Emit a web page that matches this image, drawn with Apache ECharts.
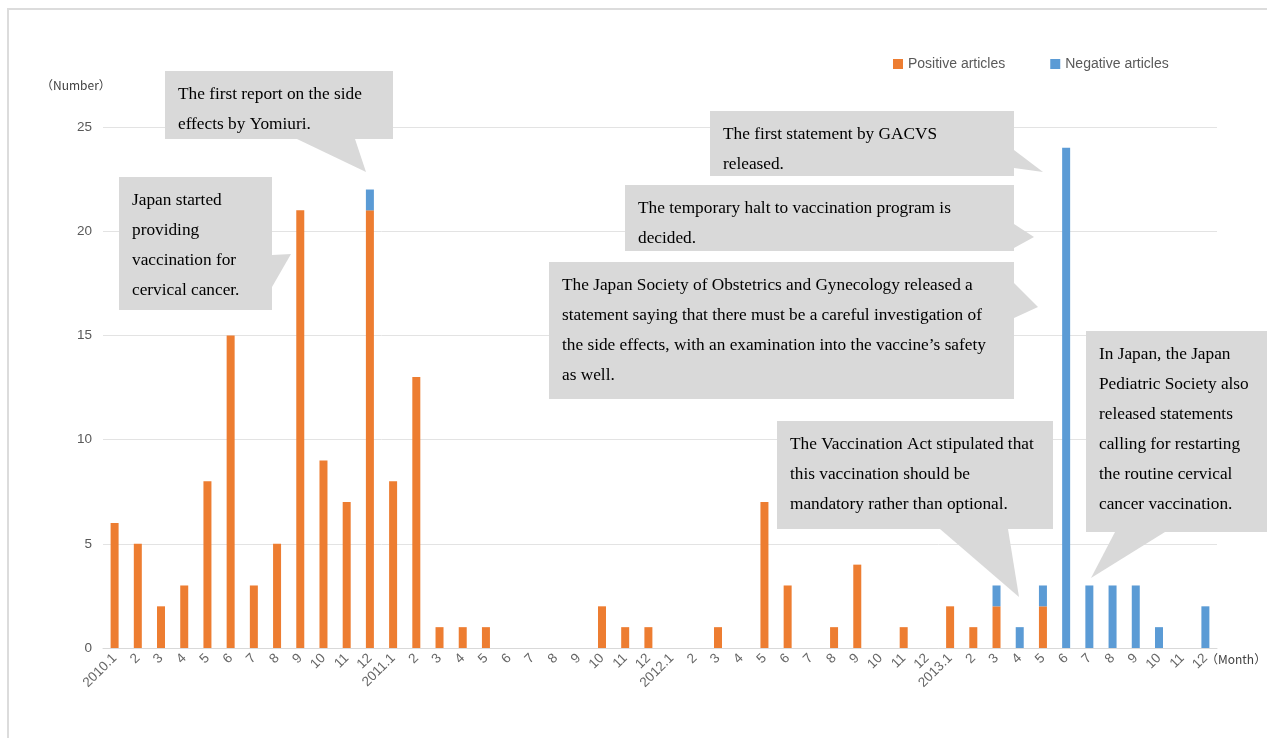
<!DOCTYPE html>
<html>
<head>
<meta charset="utf-8">
<script src="https://cdn.jsdelivr.net/npm/echarts@6/dist/echarts.min.js"></script>
<style>html,body{margin:0;padding:0;background:#fff}#c{width:1267px;height:738px}</style>
</head>
<body>
<div id="c"></div>
<script>
const categories = [
  '2010.1','2','3','4','5','6','7','8','9','10','11','12',
  '2011.1','2','3','4','5','6','7','8','9','10','11','12',
  '2012.1','2','3','4','5','6','7','8','9','10','11','12',
  '2013.1','2','3','4','5','6','7','8','9','10','11','12'
];
const positiveArticles = [
  6,5,2,3,8,15,3,5,21,9,7,21,
  8,13,1,1,1,0,0,0,0,2,1,1,
  0,0,1,0,7,3,0,1,4,0,1,0,
  2,1,2,0,2,0,0,0,0,0,0,0
];
const negativeArticles = [
  0,0,0,0,0,0,0,0,0,0,0,1,
  0,0,0,0,0,0,0,0,0,0,0,0,
  0,0,0,0,0,0,0,0,0,0,0,0,
  0,0,1,1,1,24,3,3,3,1,0,2
];
const yTicks = { min: 0, max: 25, interval: 5 };

const callouts = [
  { text: 'The first report on the side\neffects by Yomiuri.', box: [165,71,393,139], ptr: [[297,139],[366,172],[355,139]] },
  { text: 'Japan started\nproviding\nvaccination for\ncervical cancer.', box: [119,177,272,310], ptr: [[272,255],[291,254],[272,287]] },
  { text: 'The first statement by GACVS\nreleased.', box: [710,111,1014,176], ptr: [[1014,150],[1043,172],[1014,168]] },
  { text: 'The temporary halt to vaccination program is\ndecided.', box: [625,185,1014,251], ptr: [[1014,224],[1034,237],[1014,248]] },
  { text: 'The Japan Society of Obstetrics and Gynecology released a\nstatement saying that there must be a careful investigation of\nthe side effects, with an examination into the vaccine\u2019s safety\nas well.', box: [549,262,1014,399], ptr: [[1014,283],[1038,307],[1014,318]] },
  { text: 'The Vaccination Act stipulated that\nthis vaccination should be\nmandatory rather than optional.', box: [777,421,1053,529], ptr: [[940,529],[1019,597],[1008,529]] },
  { text: 'In Japan, the Japan\nPediatric Society also\nreleased statements\ncalling for restarting\nthe routine cervical\ncancer vaccination.', box: [1086,331,1280,532], ptr: [[1115,532],[1091,578],[1165,532]] }
];

const graphics = [
  { type: 'rect', z: 1, silent: true, shape: { x: 8, y: 9, width: 1300, height: 800 }, style: { fill: 'none', stroke: '#dcdcdc', lineWidth: 2 } },
  { type: 'text', z: 100, x: 41, y: 79, style: { text: '（Number）', fontSize: 12, fontFamily: 'Noto Sans CJK JP', fill: '#404040' } },
  { type: 'text', z: 100, x: 1206, y: 653, style: { text: '（Month）', fontSize: 12, fontFamily: 'Noto Sans CJK JP', fill: '#404040' } }
];
callouts.forEach(c => {
  const [x0,y0,x1,y1] = c.box;
  graphics.push({ type: 'rect', z: 100, silent: true, shape: { x: x0, y: y0, width: x1-x0, height: y1-y0 }, style: { fill: '#d9d9d9' } });
  graphics.push({ type: 'polygon', z: 100, silent: true, shape: { points: c.ptr }, style: { fill: '#d9d9d9' } });
  graphics.push({ type: 'text', z: 101, silent: true, x: x0 + 13, y: y0 + 8, style: { text: c.text, fontSize: 17.3, fontFamily: 'Liberation Serif', fill: '#000', lineHeight: 30 } });
});

const chart = echarts.init(document.getElementById('c'));
chart.setOption({
  animation: false,
  backgroundColor: '#fff',
  grid: { left: 103, right: 50, top: 127, bottom: 90, containLabel: false },
  legend: {
    left: 888, top: 52,
    itemWidth: 10, itemHeight: 10, itemGap: 45, icon: 'rect',
    textStyle: { fontSize: 14, color: '#595959', fontFamily: 'Liberation Sans' },
    data: ['Positive articles', 'Negative articles']
  },
  xAxis: {
    type: 'category',
    data: categories,
    axisLine: { lineStyle: { color: '#d9d9d9' } },
    axisTick: { show: false },
    axisLabel: { interval: 0, rotate: 45, fontSize: 13.5, color: '#666666', margin: 8, fontFamily: 'Liberation Sans' }
  },
  yAxis: {
    type: 'value',
    min: yTicks.min, max: yTicks.max, interval: yTicks.interval,
    axisLine: { show: false },
    axisTick: { show: false },
    splitLine: { lineStyle: { color: '#e3e3e3' } },
    axisLabel: { fontSize: 13.5, color: '#595959', margin: 11, fontFamily: 'Liberation Sans' }
  },
  series: [
    { name: 'Positive articles', type: 'bar', stack: 'a', barWidth: 8, itemStyle: { color: '#ED7D31' }, data: positiveArticles },
    { name: 'Negative articles', type: 'bar', stack: 'a', barWidth: 8, itemStyle: { color: '#5B9BD5' }, data: negativeArticles }
  ],
  graphic: graphics
});
</script>
</body>
</html>
